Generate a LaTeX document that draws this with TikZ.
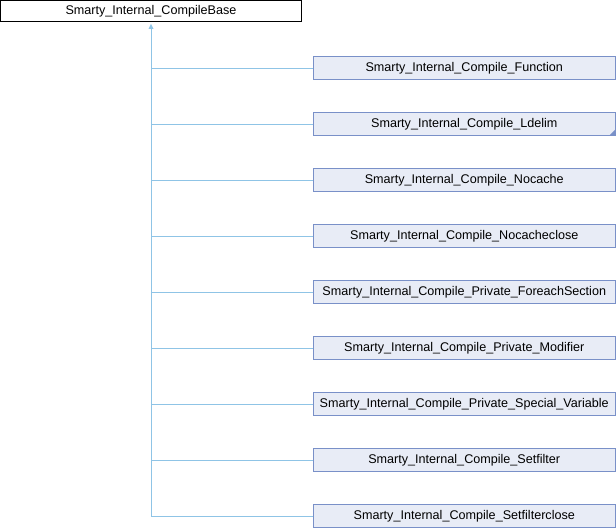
\documentclass[tikz,border=0pt]{standalone}
\usepackage{fontspec}
\setmainfont{Liberation Sans}
\definecolor{edgec}{HTML}{8FC4E6}
\definecolor{boxfill}{HTML}{E8ECF6}
\definecolor{boxdraw}{HTML}{7990C8}
\begin{document}
\begin{tikzpicture}[x=0.75pt,y=-0.75pt,
  basebox/.style={draw=black,fill=white,line width=0.9pt,inner sep=0pt,font=\fontsize{9.45pt}{11pt}\selectfont},
  childbox/.style={draw=boxdraw,fill=boxfill,line width=0.8pt,minimum width=226.5pt,minimum height=17.25pt,inner sep=0pt,font=\fontsize{9.45pt}{11pt}\selectfont},
  edge/.style={draw=edgec,line width=0.75pt}]
\useasboundingbox (0,0) rectangle (616,528);
\node[basebox,minimum width=225.75pt,minimum height=16pt] (base) at (151,11.2) {Smarty\_Internal\_CompileBase};
\coordinate (trunk) at (151,516);
\foreach \i/\name/\txt in {0/f/Function,1/l/Ldelim,2/n/Nocache,3/nc/Nocacheclose,4/pf/Private\_ForeachSection,5/pm/Private\_Modifier,6/ps/Private\_Special\_Variable,7/s/Setfilter,8/sc/Setfilterclose}{
  \node[childbox] (\name) at (464.25,{68+56*\i}) {Smarty\_Internal\_Compile\_\txt};
  \draw[edge] (151,{68+56*\i}) -- (\name.west);
}
\draw[edge] (trunk) -- ([yshift=-4.5pt]base.south);
\fill[edgec] ([yshift=-1pt]base.south) -- ++(-2.5,5) -- ++(5,0) -- cycle;
\fill[boxdraw] ([shift={(-0.4pt,0.4pt)}]l.south east) -- ++(0,-6) -- ++(-6,6) -- cycle;
\end{tikzpicture}
\end{document}
